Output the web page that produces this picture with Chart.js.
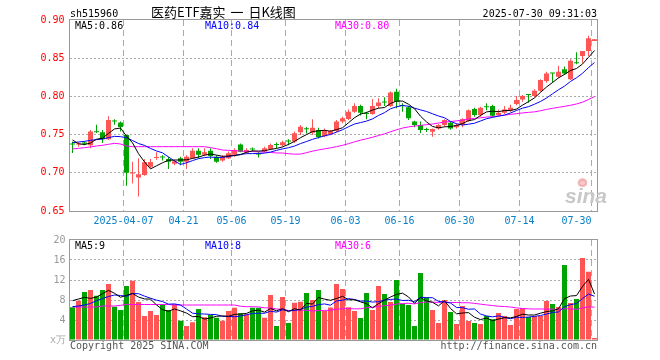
<!DOCTYPE html>
<html><head><meta charset="utf-8">
<script src="https://cdn.jsdelivr.net/npm/chart.js@4.4.1/dist/chart.umd.min.js"></script>
<style>
html,body{margin:0;padding:0;background:#fff;}
#wrap{position:relative;width:660px;height:360px;overflow:hidden;font-family:"DejaVu Sans Mono","Liberation Mono",monospace;font-size:10px;}
canvas{position:absolute;left:0;}
.t{position:absolute;white-space:pre;line-height:10px;}
#eye{position:absolute;left:577px;top:178px;width:11px;height:9px;border-radius:50%;background:radial-gradient(circle at 50% 55%,#f6c8c8 0,#f6c8c8 30%,#eaa 31%,#f4c0c0 60%,rgba(255,255,255,0) 72%);}
</style></head><body>
<div id="wrap">
<canvas id="k" width="660" height="230" style="top:0;width:660px;height:230px"></canvas>
<canvas id="v" width="660" height="130" style="top:230px;width:660px;height:130px"></canvas>
<div class="t" style="left:70px;top:9px;color:#000">sh515960</div>
<div class="t" style="left:151px;top:5px;color:#000;font-family:'Noto Sans CJK SC';font-size:13px;line-height:13px;word-spacing:2px">医药ETF嘉实 一 日K线图</div>
<div class="t" style="right:63px;top:9px;color:#000">2025-07-30 09:31:03</div>
<div class="t" style="left:75px;top:21px;color:#000">MA5:0.86</div>
<div class="t" style="left:205px;top:21px;color:#0000ff">MA10:0.84</div>
<div class="t" style="left:335px;top:21px;color:#ff00ff">MA30:0.80</div>
<div class="t" style="left:75px;top:241px;color:#000">MA5:9</div>
<div class="t" style="left:205px;top:241px;color:#0000ff">MA10:8</div>
<div class="t" style="left:335px;top:241px;color:#ff00ff">MA30:6</div>
<div class="t" style="left:50px;top:335px;color:#aaa">x万</div>
<div class="t" style="left:70px;top:341px;color:#555">Copyright 2025 SINA.COM</div>
<div class="t" style="right:63px;top:341px;color:#555">http://finance.sina.com.cn</div>
<div id="eye"></div>
<div class="t" style="left:565px;top:185px;color:#c8c8c8;font-family:'Liberation Sans';font-style:italic;font-weight:bold;font-size:21px;line-height:21px">sina</div>
</div>
<script>
const dates = ['2025-03-24','2025-03-25','2025-03-26','2025-03-27','2025-03-28','2025-03-31','2025-04-01','2025-04-02','2025-04-03','2025-04-07','2025-04-08','2025-04-09','2025-04-10','2025-04-11','2025-04-14','2025-04-15','2025-04-16','2025-04-17','2025-04-18','2025-04-21','2025-04-22','2025-04-23','2025-04-24','2025-04-25','2025-04-28','2025-04-29','2025-04-30','2025-05-06','2025-05-07','2025-05-08','2025-05-09','2025-05-12','2025-05-13','2025-05-14','2025-05-15','2025-05-16','2025-05-19','2025-05-20','2025-05-21','2025-05-22','2025-05-23','2025-05-26','2025-05-27','2025-05-28','2025-05-29','2025-05-30','2025-06-03','2025-06-04','2025-06-05','2025-06-06','2025-06-09','2025-06-10','2025-06-11','2025-06-12','2025-06-13','2025-06-16','2025-06-17','2025-06-18','2025-06-19','2025-06-20','2025-06-23','2025-06-24','2025-06-25','2025-06-26','2025-06-27','2025-06-30','2025-07-01','2025-07-02','2025-07-03','2025-07-04','2025-07-07','2025-07-08','2025-07-09','2025-07-10','2025-07-11','2025-07-14','2025-07-15','2025-07-16','2025-07-17','2025-07-18','2025-07-21','2025-07-22','2025-07-23','2025-07-24','2025-07-25','2025-07-28','2025-07-29','2025-07-30'];

const openP = [0.7375,0.737,0.7395,0.736,0.7535,0.753,0.744,0.7675,0.766,0.7495,
0.699,0.694,0.697,0.708,0.7195,0.7205,0.718,0.712,0.719,0.7145,
0.719,0.729,0.7235,0.729,0.721,0.716,0.719,0.7235,0.737,0.7265,
0.731,0.725,0.728,0.731,0.737,0.736,0.7415,0.741,0.753,0.7575,
0.7525,0.756,0.748,0.750,0.7547,0.767,0.7705,0.780,0.7875,0.7775,
0.777,0.7875,0.7925,0.7875,0.806,0.788,0.7857,0.767,0.7625,0.7565,
0.7538,0.758,0.7625,0.7656,0.7595,0.7625,0.768,0.7835,0.7757,0.786,
0.7875,0.7757,0.7787,0.782,0.790,0.796,0.802,0.8005,0.8075,0.820,
0.8305,0.8258,0.8355,0.8223,0.8438,0.853,0.8594,0.8725];

const closeP = [0.737,0.7375,0.738,0.754,0.753,0.744,0.769,0.767,0.760,0.700,
0.700,0.698,0.7137,0.714,0.720,0.720,0.7145,0.715,0.7145,0.721,
0.729,0.7235,0.727,0.722,0.7145,0.721,0.7255,0.730,0.7277,0.730,
0.7305,0.724,0.732,0.7365,0.7365,0.740,0.741,0.7517,0.7604,0.757,
0.759,0.747,0.7547,0.7547,0.767,0.7713,0.780,0.7875,0.7787,0.777,
0.7875,0.792,0.792,0.805,0.793,0.7875,0.7713,0.7625,0.756,0.756,
0.7573,0.7625,0.769,0.758,0.7625,0.770,0.782,0.7757,0.7852,0.7857,
0.7748,0.7787,0.783,0.7852,0.7953,0.8005,0.8018,0.8075,0.8215,0.830,
0.830,0.8324,0.830,0.8468,0.8433,0.8594,0.876,0.8747];

const highP = [0.741,0.740,0.741,0.756,0.763,0.756,0.774,0.770,0.767,0.7495,
0.7145,0.719,0.7177,0.718,0.727,0.723,0.721,0.717,0.721,0.723,
0.732,0.732,0.732,0.732,0.723,0.723,0.728,0.732,0.7385,0.732,
0.733,0.7277,0.734,0.7385,0.7395,0.742,0.744,0.754,0.7626,0.760,
0.770,0.759,0.758,0.756,0.769,0.7735,0.783,0.791,0.789,0.780,
0.7966,0.7975,0.799,0.8065,0.810,0.791,0.7875,0.768,0.767,0.759,
0.758,0.7638,0.770,0.767,0.7647,0.7713,0.783,0.7852,0.7865,0.791,
0.789,0.783,0.7875,0.789,0.8005,0.8018,0.803,0.8092,0.8224,0.8324,
0.8305,0.840,0.839,0.8485,0.8577,0.8594,0.8795,0.8752];

const lowP = [0.726,0.734,0.736,0.732,0.752,0.739,0.743,0.763,0.754,0.683,
0.686,0.669,0.696,0.706,0.717,0.716,0.705,0.710,0.710,0.705,
0.718,0.719,0.722,0.718,0.713,0.7145,0.718,0.721,0.727,0.7255,
0.7275,0.720,0.727,0.730,0.732,0.734,0.736,0.739,0.7495,0.7515,
0.7495,0.745,0.7465,0.749,0.753,0.765,0.769,0.7787,0.775,0.770,
0.776,0.7845,0.7875,0.786,0.7845,0.780,0.769,0.7595,0.7517,0.7535,
0.7473,0.7565,0.7605,0.7565,0.758,0.7595,0.7669,0.7735,0.7735,0.782,
0.7735,0.7743,0.777,0.780,0.7883,0.793,0.7917,0.799,0.806,0.818,
0.818,0.8237,0.828,0.8215,0.842,0.8442,0.853,0.8738];

// volume, 万手
const volume = [6.53,7.87,9.6,10.0,8.87,10.0,11.2,6.67,6.0,10.8,
11.87,7.6,4.8,5.8,5.0,7.13,6.0,7.13,3.87,2.8,
3.53,6.2,4.53,5.0,4.47,3.87,5.8,6.47,5.33,5.13,
6.47,6.47,4.47,9.0,2.8,8.6,3.4,7.47,7.67,9.4,
8.0,10.0,5.8,6.5,11.2,10.2,6.53,5.8,4.4,9.4,
6.0,10.8,9.2,7.6,12.0,7.27,7.0,2.8,13.4,8.53,
6.0,3.4,8.0,5.6,3.2,6.8,3.8,3.4,3.2,4.8,
4.13,5.4,4.8,3.0,6.2,6.4,4.6,4.8,4.8,7.8,
7.2,6.6,15.0,7.4,8.2,16.4,13.67,0.4];

// moving-average values for the first days (history before the window)
const ma5Head  = [0.743,0.738,0.737,0.739];
const ma10Head = [0.7394,0.7403,0.7412,0.7425,0.7434,0.7442,0.746,0.7477,0.7473];
const ma30Head = [0.7312,0.732,0.7329,0.7338,0.7351,0.736,0.7373,0.7386,0.7377,0.7351,
0.7342,0.7342,0.7342,0.7342,0.7342,0.7342,0.7342,0.7342,0.7342,0.7342,
0.7342,0.7342,0.7342,0.7329,0.7316,0.7298,0.7294,0.729,0.7285];
const vma5Head  = [7.87,8.2,8.53,8.33];
const vma10Head = [6.67,6.8,7.0,7.3,7.87,8.3,8.7,9.0,8.9];
const vma30Head = [6.6,6.6,6.6,6.6,6.6,6.8,6.8,6.8,6.93,7.13,
7.1,7.1,7.1,7.1,7.1,7.1,7.1,7.0,7.0,7.0,
7.0,7.0,7.0,7.0,7.0,7.0,7.0,7.0,6.75];

const axisDates = ['2025-04-07','2025-04-21','2025-05-06','2025-05-19','2025-06-03','2025-06-16','2025-06-30','2025-07-14','2025-07-30'];
const axisTexts = ['2025-04-07','04-21','05-06','05-19','06-03','06-16','06-30','07-14','07-30'];

function movingAvg(src, n, head) {
  return src.map((_, i) => {
    if (i < n - 1) return head[i];
    let s = 0;
    for (let k = i - n + 1; k <= i; k++) s += src[k];
    return s / n;
  });
}
const ma5 = movingAvg(closeP, 5, ma5Head);
const ma10 = movingAvg(closeP, 10, ma10Head);
const ma30 = movingAvg(closeP, 30, ma30Head);
const vma5 = movingAvg(volume, 5, vma5Head);
const vma10 = movingAvg(volume, 10, vma10Head);
const vma30 = movingAvg(volume, 30, vma30Head);

const RED = '#ff5555', GREEN = '#00a400';
const colors = closeP.map((c, i) => c >= openP[i] ? RED : GREEN);
const labelIdx = new Map(axisDates.map((d, j) => [dates.indexOf(d), axisTexts[j]]));
const MONO = {family: "'DejaVu Sans Mono','Liberation Mono',monospace", size: 10};

const frame = {
  id: 'frame',
  afterDraw(chart) {
    const {ctx, chartArea: a} = chart;
    ctx.save();
    ctx.strokeStyle = '#999';
    ctx.lineWidth = 1;
    const l = Math.floor(a.left) + 0.5, r = Math.floor(a.right) + 0.5;
    const t = Math.floor(a.top) - 0.5, b = Math.floor(a.bottom) + 0.5;
    ctx.strokeRect(l, t, r - l, b - t);
    ctx.restore();
  }
};

function lineDs(data, color) {
  return {type: 'line', data, borderColor: color, borderWidth: 1, pointRadius: 0, tension: 0, order: 0, fill: false};
}

const xGrid = {
  offset: true, drawTicks: false, lineWidth: 1,
  color: ctx => labelIdx.has(ctx.index) ? '#aaa' : 'rgba(0,0,0,0)'
};

new Chart(document.getElementById('k'), {
  type: 'bar',
  data: {
    labels: dates,
    datasets: [
      lineDs(ma5, '#000000'),
      lineDs(ma10, '#0000ff'),
      lineDs(ma30, '#ff00ff'),
      {type: 'bar', data: dates.map((d, i) => [openP[i], closeP[i]]), backgroundColor: colors, barThickness: 5, grouped: false, minBarLength: 1, inflateAmount: 0, borderWidth: 0, order: 1},
      {type: 'bar', data: dates.map((d, i) => [lowP[i], highP[i]]), backgroundColor: colors, barThickness: 1, grouped: false, minBarLength: 1, inflateAmount: 0, borderWidth: 0, order: 2}
    ]
  },
  options: {
    responsive: false, animation: false, events: [],
    layout: {padding: {top: 20, right: 62.5, left: 0, bottom: 0}},
    plugins: {legend: {display: false}, tooltip: {enabled: false}},
    scales: {
      x: {
        type: 'category', offset: true,
        grid: xGrid,
        border: {display: false, dash: [6, 4]},
        ticks: {
          autoSkip: false, maxRotation: 0, minRotation: 0, padding: 4, labelOffset: -3,
          color: '#0a80c8', font: MONO,
          callback: (v, i) => labelIdx.has(i) ? (i === dates.length - 1 ? labelIdx.get(i) + '     ' : labelIdx.get(i)) : ''
        },
        afterFit: s => { s.height = 19; }
      },
      y: {
        min: 0.65, max: 0.90,
        ticks: {stepSize: 0.05, padding: 5, color: '#ff0000', font: MONO, callback: v => Number(v).toFixed(2)},
        grid: {drawTicks: false, lineWidth: 1, color: ctx => (ctx.tick && (Math.abs(ctx.tick.value - 0.65) < 1e-6 || Math.abs(ctx.tick.value - 0.9) < 1e-6)) ? 'rgba(0,0,0,0)' : '#aaa'},
        border: {display: false, dash: [2, 2]},
        afterFit: s => { s.width = 69.5; }
      }
    }
  },
  plugins: [frame]
});

new Chart(document.getElementById('v'), {
  type: 'bar',
  data: {
    labels: dates,
    datasets: [
      lineDs(vma5, '#000000'),
      lineDs(vma10, '#0000ff'),
      lineDs(vma30, '#ff00ff'),
      {type: 'bar', data: volume, backgroundColor: colors, barThickness: 5, grouped: false, inflateAmount: 0, borderWidth: 0, order: 1}
    ]
  },
  options: {
    responsive: false, animation: false, events: [],
    layout: {padding: {top: 10, right: 62.5, left: 0, bottom: 20}},
    plugins: {legend: {display: false}, tooltip: {enabled: false}},
    scales: {
      x: {
        type: 'category', offset: true,
        grid: xGrid,
        border: {display: false, dash: [6, 4]},
        ticks: {display: false, autoSkip: false, maxRotation: 0},
        afterFit: s => { s.height = 0; }
      },
      y: {
        min: 0, max: 20,
        ticks: {stepSize: 4, padding: 4, color: '#999', font: MONO, callback: v => v === 0 ? '' : String(v)},
        grid: {drawTicks: false, lineWidth: 1, color: ctx => (ctx.tick && (ctx.tick.value === 0 || ctx.tick.value === 20)) ? 'rgba(0,0,0,0)' : '#aaa'},
        border: {display: false, dash: [2, 2]},
        afterFit: s => { s.width = 69.5; }
      }
    }
  },
  plugins: [frame]
});
</script>
</body></html>
